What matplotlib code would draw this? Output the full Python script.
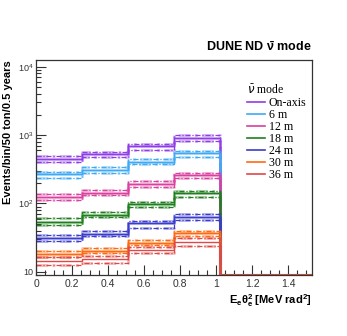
import numpy as np
import matplotlib.pyplot as plt
from matplotlib.ticker import LogLocator, FixedLocator, MultipleLocator

plt.rcParams["font.family"] = ["Liberation Sans", "DejaVu Sans"]
plt.rcParams["mathtext.fontset"] = "custom"
plt.rcParams["mathtext.rm"] = "Liberation Sans"
plt.rcParams["mathtext.bf"] = "Liberation Sans:bold"

# bin edges in E_e theta_e^2 (kinematic limit 2 m_e = 1.022)
edges = [0, 0.2555, 0.511, 0.7665, 1.022, 1.2775, 1.533]

labels = ["On-axis", "6 m", "12 m", "18 m", "24 m", "30 m", "36 m"]
colors = ["#8f3de6", "#3fa9f5", "#d9409f", "#1f7f1f", "#3b3bcc", "#ff6a10", "#e04848"]

# central value, upper and lower band per bin (last two bins are empty)
central = [
    [447, 525, 690, 900, 0, 0],
    [270, 310, 400, 550, 0, 0],
    [124, 141, 192, 260, 0, 0],
    [53.5, 68, 98, 142, 0, 0],
    [31.5, 36, 52, 63, 0, 0],
    [18.3, 20.4, 26.5, 36.5, 0, 0],
    [14.5, 15.5, 21, 27.5, 0, 0],
]
upper = [
    [490, 565, 740, 1000, 0, 0],
    [288, 340, 445, 585, 0, 0],
    [138, 157, 213, 279, 0, 0],
    [61, 75, 105, 152, 0, 0],
    [35, 39.7, 56, 70.5, 0, 0],
    [20, 22.4, 29, 40, 0, 0],
    [16.5, 17, 23, 31, 0, 0],
]
lower = [
    [404, 480, 605, 820, 0, 0],
    [235, 279, 375, 470, 0, 0],
    [112, 132, 174, 236, 0, 0],
    [48.5, 63, 89, 124, 0, 0],
    [28, 33.5, 44, 57, 0, 0],
    [16.5, 18.5, 24.5, 33, 0, 0],
    [12.5, 13.5, 19, 24, 0, 0],
]

ymin, ymax = 9, 1.25e4

fig = plt.figure(figsize=(3.47, 3.36), dpi=100)
ax = fig.add_axes([0.104, 0.182, 0.795, 0.639])

def draw(vals, color, ls, lw, halo=True):
    v = np.clip(np.array(vals, dtype=float), ymin, None)
    y = np.append(v, v[-1])
    if halo:
        ax.step(edges, y, where="post", color=color, lw=lw + 1.2, ls=ls, alpha=0.35)
    ax.step(edges, y, where="post", color=color, lw=lw, ls=ls)

for i in range(len(labels)):
    c = colors[i]
    draw(upper[i], c, (0, (4, 1.5, 1, 1.5)), 0.9)
    draw(lower[i], c, (0, (4, 1.5, 1, 1.5)), 0.9)
    draw(central[i], c, "-", 1.0, halo=(i < 6))
    ax.plot([], [], color=c, lw=1.2, label=labels[i])

ax.set_yscale("log")
ax.set_xlim(0, 1.533)
ax.set_ylim(ymin, ymax)

ax.yaxis.set_major_locator(FixedLocator([10, 100, 1000, 10000]))
ax.set_yticklabels(["10", "$10^{2}$", "$10^{3}$", "$10^{4}$"])
ax.yaxis.set_minor_locator(LogLocator(base=10, subs=np.arange(2, 10)))
ax.yaxis.set_minor_formatter(plt.NullFormatter())
ax.xaxis.set_minor_locator(MultipleLocator(0.05))
ax.set_xticks([0, 0.2, 0.4, 0.6, 0.8, 1.0, 1.2, 1.4])
ax.set_xticklabels(["0", "0.2", "0.4", "0.6", "0.8", "1", "1.2", "1.4"])

ax.tick_params(which="both", direction="in", top=False, right=False,
               colors="#333333", pad=3)
ax.tick_params(axis="x", labelsize=7.5)
ax.tick_params(axis="y", labelsize=6.5, pad=2)
ax.tick_params(which="major", length=7, width=0.8)
ax.tick_params(which="minor", length=3.5, width=0.8)
for s in ax.spines.values():
    s.set_color("#333333")
    s.set_linewidth(0.9)

fig.text(0.022, 0.821, "Events/bin/50 ton/0.5 years", rotation=90,
         ha="center", va="top", fontsize=8, fontweight="bold")
ax.set_xlabel(r"$\mathbf{E_{e}\theta_{e}^{2}}$ [MeV rad$^{\mathbf{2}}$]",
              fontsize=8, fontweight="bold", loc="right", labelpad=2)
fig.text(0.899, 0.848, r"DUNE ND $\mathbf{\bar{\nu}}$ mode", ha="right",
         fontsize=9, fontweight="bold")

leg = ax.legend(loc="upper left", bbox_to_anchor=(0.765, 0.89), frameon=False,
                title=r"$\bar{\nu}$ mode", title_fontsize=8.5,
                prop={"family": "Liberation Serif", "size": 8.6},
                handlelength=1.5, handletextpad=0.3, labelspacing=0.0,
                borderaxespad=0, borderpad=0)
leg.get_title().set_family("Liberation Serif")
leg._legend_box.align = "left"

fig.savefig("out.png", dpi=100)
